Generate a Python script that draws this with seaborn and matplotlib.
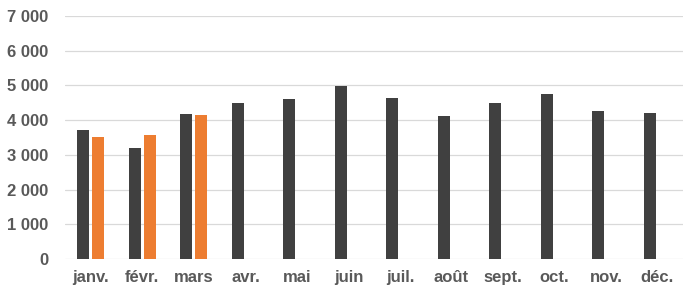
import matplotlib
matplotlib.use("Agg")
import matplotlib.pyplot as plt
import matplotlib.ticker as mticker
import seaborn as sns
import pandas as pd
import numpy as np

months = ["janv.", "févr.", "mars", "avr.", "mai", "juin", "juil.", "août",
          "sept.", "oct.", "nov.", "déc."]
series_prev = [3720, 3200, 4180, 4490, 4610, 4990, 4650, 4120, 4490, 4760, 4270, 4215]
series_curr = [3520, 3570, 4160, np.nan, np.nan, np.nan, np.nan, np.nan,
               np.nan, np.nan, np.nan, np.nan]
series_names = ["Précédent", "Actuel"]
colors = ["#404040", "#ED7D31"]

df = pd.DataFrame({
    "mois": months * 2,
    "valeur": series_prev + series_curr,
    "serie": [series_names[0]] * 12 + [series_names[1]] * 12,
})

sns.set_theme(style="white")
plt.rcParams["font.family"] = ["Liberation Sans", "DejaVu Sans"]

fig = plt.figure(figsize=(7.0, 2.96), dpi=100)
ax = fig.add_axes([0.093, 0.125, 0.883, 0.821])

sns.barplot(data=df, x="mois", y="valeur", hue="serie", order=months,
            hue_order=series_names, palette=colors, width=0.58, gap=0.2,
            errorbar=None, legend=False, ax=ax, saturation=1, linewidth=0)

ax.set_ylim(0, 7000)
ax.set_xlim(-0.5, 11.5)
ax.yaxis.set_major_locator(mticker.MultipleLocator(1000))
ax.yaxis.set_major_formatter(mticker.FuncFormatter(lambda v, p: f"{int(v):,}".replace(",", " ")))
ax.grid(axis="y", color="#d9d9d9", linewidth=0.9)
ax.set_axisbelow(True)
for s in ax.spines.values():
    s.set_visible(False)
ax.set_xlabel("")
ax.set_ylabel("")
ax.tick_params(axis="both", length=0, labelsize=12, colors="#595959")
ax.tick_params(axis="y", pad=12)
ax.tick_params(axis="x", pad=8)
for lab in ax.get_xticklabels() + ax.get_yticklabels():
    lab.set_fontweight("bold")

fig.savefig("out.png", dpi=100)
